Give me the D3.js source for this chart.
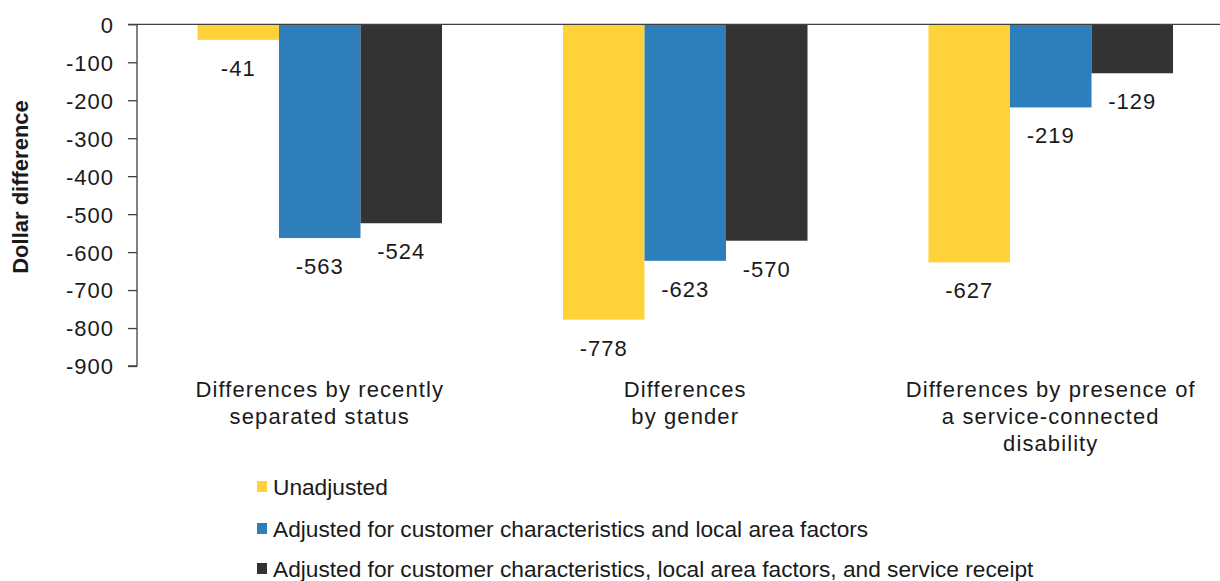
<!DOCTYPE html>
<html>
<head>
<meta charset="utf-8">
<script src="https://cdn.jsdelivr.net/npm/d3@7"></script>
<style>
  html, body { margin: 0; padding: 0; background: #fff; }
  svg { display: block; }
  text { font-family: "Liberation Sans", Arial, Helvetica, sans-serif; fill: #1a1a1a; }
</style>
</head>
<body>
<svg id="chart" width="1220" height="581"></svg>
<script>
// ---- data ----
const categories = ["recent", "gender", "disability"];
const categoryLabels = [
  ["Differences by recently", "separated status"],
  ["Differences", "by gender"],
  ["Differences by presence of", "a service-connected", "disability"]
];
const seriesNames = [
  "Unadjusted",
  "Adjusted for customer characteristics and local area factors",
  "Adjusted for customer characteristics, local area factors, and service receipt"
];
const unadjusted = [-41, -778, -627];
const adjustedLocal = [-563, -623, -219];
const adjustedService = [-524, -570, -129];
const yTicks = [0, -100, -200, -300, -400, -500, -600, -700, -800, -900];
const colors = ["#FFD23A", "#2E7EBB", "#333333"];

const seriesValues = [unadjusted, adjustedLocal, adjustedService];

// ---- scales ----
const svg = d3.select("#chart");
const x0 = d3.scaleBand().domain(categories).range([137, 1233.5])
  .paddingInner(0.331).paddingOuter(0.1655);
const x1 = d3.scaleBand().domain(d3.range(3)).range([0, x0.bandwidth()]).padding(0);
const y = d3.scaleLinear().domain([-900, 0]).range([366, 24.3]);

// ---- bars ----
const groups = svg.append("g").selectAll("g").data(categories).join("g")
  .attr("transform", d => `translate(${x0(d)},0)`);

groups.selectAll("rect")
  .data((c, ci) => seriesValues.map((s, si) => ({ si, v: s[ci] })))
  .join("rect")
  .attr("x", d => x1(d.si))
  .attr("width", x1.bandwidth())
  .attr("y", y(0))
  .attr("height", d => y(d.v) - y(0))
  .attr("fill", d => colors[d.si]);

// data labels
groups.selectAll("text.val")
  .data((c, ci) => seriesValues.map((s, si) => ({ si, v: s[ci] })))
  .join("text")
  .attr("class", "val")
  .attr("x", d => x1(d.si) + x1.bandwidth() / 2)
  .attr("y", d => y(d.v) + 36)
  .attr("text-anchor", "middle")
  .style("font-size", "22px")
  .style("letter-spacing", "1px")
  .text(d => d.v);

// ---- axes ----
const yAxis = d3.axisLeft(y).tickValues(yTicks).tickSize(9).tickPadding(14)
  .tickFormat(d => d);
const gy = svg.append("g").attr("transform", "translate(137,0)").call(yAxis);
gy.select(".domain").attr("stroke", "#404040").attr("stroke-width", 1.3)
  .attr("d", `M-9,${y(-900)}H0V${y(0)}`);
gy.selectAll(".tick line").attr("stroke", "#404040").attr("stroke-width", 1.3);
gy.selectAll(".tick text")
  .style("font-family", "'Liberation Sans', Arial, sans-serif")
  .style("font-size", "22px")
  .style("letter-spacing", "1px")
  .attr("fill", "#1a1a1a")
  .attr("dy", "0.36em");

// zero baseline across plot
svg.append("line")
  .attr("x1", 128).attr("x2", 1220)
  .attr("y1", y(0)).attr("y2", y(0))
  .attr("stroke", "#404040").attr("stroke-width", 1.3);

// category labels
const catG = svg.append("g");
categories.forEach((c, i) => {
  const cx = x0(c) + x0.bandwidth() / 2;
  categoryLabels[i].forEach((line, li) => {
    catG.append("text")
      .attr("x", cx)
      .attr("y", 397 + li * 27)
      .attr("text-anchor", "middle")
      .style("font-size", "22px")
      .style("letter-spacing", "1.1px")
      .text(line);
  });
});

// y axis title
svg.append("text")
  .attr("transform", "translate(28,187) rotate(-90)")
  .attr("text-anchor", "middle")
  .style("font-size", "22px")
  .style("font-weight", "bold")
  .text("Dollar difference");

// ---- legend ----
const legendY = [495, 537, 577];
const lg = svg.append("g").selectAll("g").data(seriesNames).join("g");
lg.append("rect")
  .attr("x", 257).attr("y", (d, i) => legendY[i] - 14)
  .attr("width", 10).attr("height", 11)
  .attr("fill", (d, i) => colors[i]);
lg.append("text")
  .attr("x", 273).attr("y", (d, i) => legendY[i])
  .style("font-size", "22.7px")
  .text(d => d);
</script>
</body>
</html>
